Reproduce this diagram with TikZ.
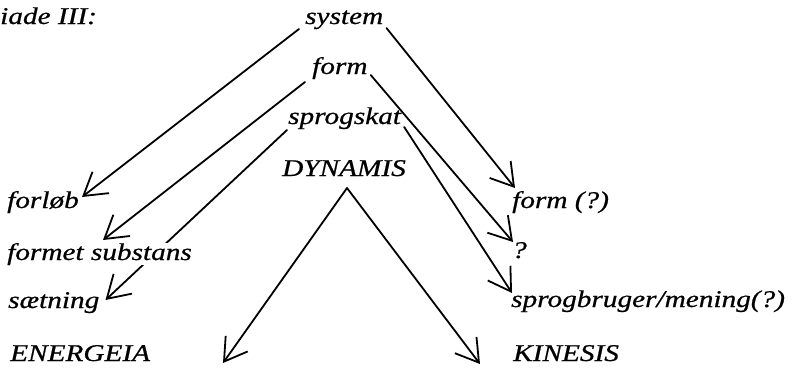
\documentclass[tikz,border=0pt]{standalone}
\usepackage{fontspec}
\setmainfont{Liberation Serif}[ItalicFeatures={FakeBold=0.6}]
\usepackage{graphicx}
\usetikzlibrary{arrows.meta,calc}
\pgfdeclarelayer{background}
\pgfsetlayers{background,main}
\newcommand{\txt}[1]{\scalebox{1.22}[1]{\itshape #1}}
\tikzset{
  lbl/.style={inner sep=0pt, anchor=base west, font=\fontsize{24}{28}\selectfont},
  arr/.style={line width=1.8pt, line cap=round,
    -{Straight Barb[length=22pt,width=27pt,line width=1.8pt]}},
}
\begin{document}
\begin{tikzpicture}[x=1pt,y=-1pt]
\useasboundingbox (0,0) rectangle (792,367);
% left column and top
\node[lbl] (title) at (0,24) {\txt{iade III:}};
\node[lbl] (system) at (305,24) {\txt{system}};
\node[lbl] (form) at (312,74) {\txt{form}};
\node[lbl] (skat) at (288,124) {\txt{sprogskat}};
\node[lbl] (dyn) at (282,176) {\txt{DYNAMIS}};
\node[lbl] (forlob) at (7,208) {\txt{forløb}};
\node[lbl, fill=white] (fsub) at (7,260) {\txt{formet substans}};
\node[lbl] (saet) at (8,308) {\txt{sætning}};
\node[lbl] (ener) at (10,361) {\txt{ENERGEIA}};
% right column
\node[lbl] (formq) at (512,208) {\txt{form (?)}};
\node[lbl] (q) at (512,258) {\txt{?}};
\node[lbl] (bruger) at (511,307) {\txt{sprogbruger/mening(?)}};
\node[lbl] (kin) at (513,361) {\txt{KINESIS}};
% free ends
\coordinate (apex) at ($(dyn.base)+(3,12)$);
\coordinate (etip) at (223,363);
\coordinate (ktip) at (480,364);
\begin{pgfonlayer}{background}
\draw[arr] ($(system.base west)+(-6,5)$) -- ($(forlob.base east)+(3,-11)$);
\draw[arr] ($(form.base west)+(-7,8)$) -- ($(fsub.base west)+(96,-20)$);
\draw[arr] ($(skat.base west)+(-1,6)$) -- ($(saet.base east)+(6,-8)$);
\draw[arr] ($(system.base east)+(3,4)$) -- ($(formq.base west)+(3,-20)$);
\draw[arr] ($(form.base east)+(3,1)$) -- ($(q.base west)+(1,-16)$);
\draw[arr] ($(skat.base east)+(3,3)$) -- ($(bruger.base west)+(1,-14)$);
\draw[arr] (apex) -- (etip);
\draw[arr] (apex) -- (ktip);
\end{pgfonlayer}
\end{tikzpicture}
\end{document}
